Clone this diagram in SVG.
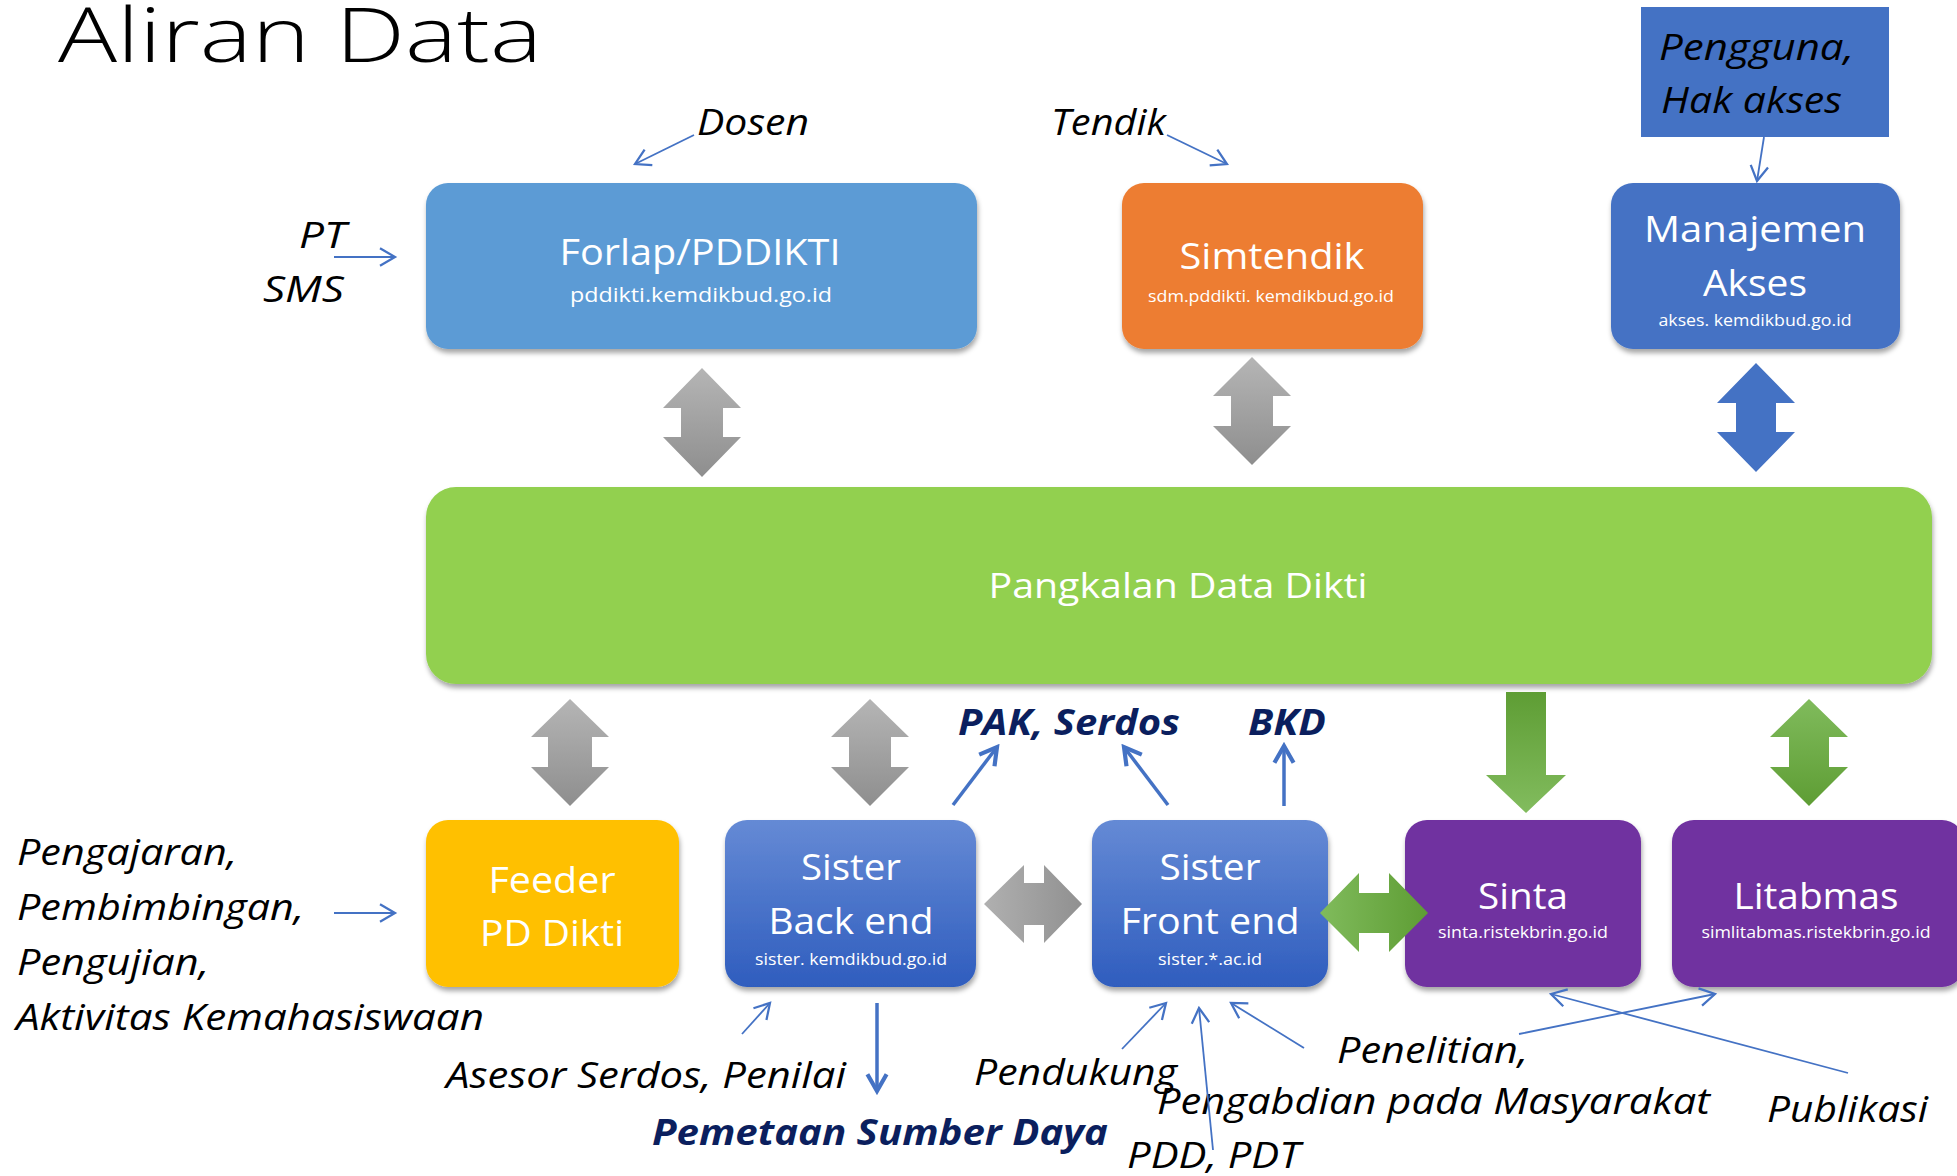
<svg xmlns="http://www.w3.org/2000/svg" width="1957" height="1176" viewBox="0 0 1957 1176">
<defs>
<style>
.t{font-family:"Open Sans","Noto Sans","DejaVu Sans",sans-serif;fill:#fff}
.i{font-family:"Open Sans","Noto Sans","DejaVu Sans",sans-serif;font-style:italic;fill:#000;font-size:37px}
.b{font-family:"Open Sans","Noto Sans","DejaVu Sans",sans-serif;font-style:italic;font-weight:bold;fill:#0B1F5E;font-size:35px}
.big{font-size:36px}
.sub{font-size:16px}
.ln{stroke:#4472C4;stroke-width:1.8;fill:none;marker-end:url(#ah)}
.lk{stroke:#4472C4;stroke-width:3.5;fill:none;marker-end:url(#ahk)}
</style>
<filter id="sh" x="-10%" y="-10%" width="120%" height="135%">
<feDropShadow dx="1" dy="4" stdDeviation="2.5" flood-color="#000" flood-opacity="0.35"/>
</filter>
<linearGradient id="gv" x1="0" y1="0" x2="0" y2="1"><stop offset="0" stop-color="#B5B5B5"/><stop offset="1" stop-color="#8E8E8E"/></linearGradient>
<linearGradient id="gh" x1="0" y1="0" x2="1" y2="0"><stop offset="0" stop-color="#B0B0B0"/><stop offset="1" stop-color="#909090"/></linearGradient>
<linearGradient id="grv" x1="0" y1="0" x2="0" y2="1"><stop offset="0" stop-color="#80BB5C"/><stop offset="1" stop-color="#5E9D34"/></linearGradient>
<linearGradient id="grd" x1="0" y1="0" x2="0" y2="1"><stop offset="0" stop-color="#5E9D34"/><stop offset="1" stop-color="#82BC5E"/></linearGradient>
<linearGradient id="grh" x1="0" y1="0" x2="1" y2="0"><stop offset="0" stop-color="#80BB5C"/><stop offset="1" stop-color="#5E9D34"/></linearGradient>
<linearGradient id="bl" x1="0" y1="0" x2="0" y2="1"><stop offset="0" stop-color="#658AD5"/><stop offset="1" stop-color="#2F5DBE"/></linearGradient>
<marker id="ah" markerUnits="userSpaceOnUse" markerWidth="20" markerHeight="20" viewBox="-14 -8 16 16" refX="0" refY="0" orient="auto">
<path d="M-12,-7 L0,0 L-12,7" fill="none" stroke="#4472C4" stroke-width="1.8"/>
</marker>
<marker id="ahk" markerUnits="userSpaceOnUse" markerWidth="24" markerHeight="24" viewBox="-16 -10 19 20" refX="0" refY="0" orient="auto">
<path d="M-14,-8 L0,0 L-14,8" fill="none" stroke="#4472C4" stroke-width="3.5"/>
</marker>
</defs>
<rect width="1957" height="1176" fill="#fff"/>

<text class="t" x="58" y="62" style="fill:#000;font-size:76px;font-weight:300" textLength="484" lengthAdjust="spacingAndGlyphs">Aliran Data</text>

<g id="forlap">
<rect x="426" y="183" width="551" height="166" rx="22" fill="#5B9BD5" filter="url(#sh)"/>
<text class="t big" x="700" y="265" text-anchor="middle" textLength="281" lengthAdjust="spacingAndGlyphs">Forlap/PDDIKTI</text>
<text class="t" x="701" y="302" text-anchor="middle" style="font-size:20px" textLength="262" lengthAdjust="spacingAndGlyphs">pddikti.kemdikbud.go.id</text>
</g>
<g id="simtendik">
<rect x="1122" y="183" width="301" height="166" rx="22" fill="#ED7D31" filter="url(#sh)"/>
<text class="t big" x="1272" y="269" text-anchor="middle" textLength="185" lengthAdjust="spacingAndGlyphs">Simtendik</text>
<text class="t sub" x="1271" y="302" text-anchor="middle" textLength="246" lengthAdjust="spacingAndGlyphs">sdm.pddikti. kemdikbud.go.id</text>
</g>
<g id="pengguna">
<rect x="1641" y="7" width="248" height="130" fill="#4472C4"/>
<text class="i" x="1659" y="60" textLength="195" lengthAdjust="spacingAndGlyphs">Pengguna,</text>
<text class="i" x="1661" y="113" textLength="181" lengthAdjust="spacingAndGlyphs">Hak akses</text>
</g>
<g id="manajemen">
<rect x="1611" y="183" width="289" height="166" rx="22" fill="#4472C4" filter="url(#sh)"/>
<text class="t big" x="1755" y="242" text-anchor="middle" textLength="222" lengthAdjust="spacingAndGlyphs">Manajemen</text>
<text class="t big" x="1755" y="296" text-anchor="middle" textLength="104" lengthAdjust="spacingAndGlyphs">Akses</text>
<text class="t sub" x="1755" y="326" text-anchor="middle" textLength="193" lengthAdjust="spacingAndGlyphs">akses. kemdikbud.go.id</text>
</g>
<g id="pddikti">
<rect x="426" y="487" width="1506" height="197" rx="30" fill="#92D050" filter="url(#sh)"/>
<text class="t big" x="1178" y="598" text-anchor="middle" style="font-size:35px" textLength="379" lengthAdjust="spacingAndGlyphs">Pangkalan Data Dikti</text>
</g>
<g id="feeder">
<rect x="426" y="820" width="253" height="167" rx="22" fill="#FFC000" filter="url(#sh)"/>
<text class="t big" x="552" y="893" text-anchor="middle" textLength="127" lengthAdjust="spacingAndGlyphs">Feeder</text>
<text class="t big" x="552" y="946" text-anchor="middle" textLength="144" lengthAdjust="spacingAndGlyphs">PD Dikti</text>
</g>
<g id="backend">
<rect x="725" y="820" width="251" height="167" rx="22" fill="url(#bl)" filter="url(#sh)"/>
<text class="t big" x="851" y="880" text-anchor="middle" textLength="100" lengthAdjust="spacingAndGlyphs">Sister</text>
<text class="t big" x="851" y="934" text-anchor="middle" textLength="165" lengthAdjust="spacingAndGlyphs">Back end</text>
<text class="t sub" x="851" y="965" text-anchor="middle" textLength="192" lengthAdjust="spacingAndGlyphs">sister. kemdikbud.go.id</text>
</g>
<g id="frontend">
<rect x="1092" y="820" width="236" height="167" rx="22" fill="url(#bl)" filter="url(#sh)"/>
<text class="t big" x="1210" y="880" text-anchor="middle" textLength="101" lengthAdjust="spacingAndGlyphs">Sister</text>
<text class="t big" x="1210" y="934" text-anchor="middle" textLength="179" lengthAdjust="spacingAndGlyphs">Front end</text>
<text class="t sub" x="1210" y="965" text-anchor="middle" textLength="104" lengthAdjust="spacingAndGlyphs">sister.*.ac.id</text>
</g>
<g id="sinta">
<rect x="1405" y="820" width="236" height="167" rx="22" fill="#7030A0" filter="url(#sh)"/>
<text class="t big" x="1523" y="909" text-anchor="middle" textLength="90" lengthAdjust="spacingAndGlyphs">Sinta</text>
<text class="t sub" x="1523" y="938" text-anchor="middle" textLength="170" lengthAdjust="spacingAndGlyphs">sinta.ristekbrin.go.id</text>
</g>
<g id="litabmas">
<rect x="1672" y="820" width="292" height="167" rx="22" fill="#7030A0" filter="url(#sh)"/>
<text class="t big" x="1816" y="909" text-anchor="middle" textLength="165" lengthAdjust="spacingAndGlyphs">Litabmas</text>
<text class="t sub" x="1816" y="938" text-anchor="middle" textLength="229" lengthAdjust="spacingAndGlyphs">simlitabmas.ristekbrin.go.id</text>
</g>

<g id="labels">
<text class="i" x="697" y="135" textLength="112" lengthAdjust="spacingAndGlyphs">Dosen</text>
<text class="i" x="1051" y="135" textLength="115" lengthAdjust="spacingAndGlyphs">Tendik</text>
<text class="i" x="299" y="248" textLength="47" lengthAdjust="spacingAndGlyphs">PT</text>
<text class="i" x="263" y="302" textLength="81" lengthAdjust="spacingAndGlyphs">SMS</text>
<text class="i" x="17" y="865" textLength="220" lengthAdjust="spacingAndGlyphs">Pengajaran,</text>
<text class="i" x="17" y="920" textLength="287" lengthAdjust="spacingAndGlyphs">Pembimbingan,</text>
<text class="i" x="17" y="975" textLength="192" lengthAdjust="spacingAndGlyphs">Pengujian,</text>
<text class="i" x="16" y="1030" textLength="468" lengthAdjust="spacingAndGlyphs">Aktivitas Kemahasiswaan</text>
<text class="i" x="446" y="1088" textLength="400" lengthAdjust="spacingAndGlyphs">Asesor Serdos, Penilai</text>
<text class="b" x="652" y="1145" textLength="456" lengthAdjust="spacingAndGlyphs">Pemetaan Sumber Daya</text>
<text class="b" x="958" y="735" textLength="222" lengthAdjust="spacingAndGlyphs">PAK, Serdos</text>
<text class="b" x="1248" y="735" textLength="78" lengthAdjust="spacingAndGlyphs">BKD</text>
<text class="i" x="974" y="1085" textLength="203" lengthAdjust="spacingAndGlyphs">Pendukung</text>
<text class="i" x="1337" y="1063" textLength="191" lengthAdjust="spacingAndGlyphs">Penelitian,</text>
<text class="i" x="1157" y="1114" textLength="553" lengthAdjust="spacingAndGlyphs">Pengabdian pada Masyarakat</text>
<text class="i" x="1127" y="1168" textLength="173" lengthAdjust="spacingAndGlyphs">PDD, PDT</text>
<text class="i" x="1767" y="1122" textLength="161" lengthAdjust="spacingAndGlyphs">Publikasi</text>
</g>

<g id="connectors">
<polygon fill="url(#gv)" points="702,368 741,408 723,408 723,437 741,437 702,477 663,437 681,437 681,408 663,408"/>
<polygon fill="url(#gv)" points="1252,357 1291,396 1273,396 1273,426 1291,426 1252,465 1213,426 1231,426 1231,396 1213,396"/>
<polygon fill="#4472C4" points="1756,363 1795,403 1776,403 1776,432 1795,432 1756,472 1717,432 1736,432 1736,403 1717,403"/>
<polygon fill="url(#gv)" points="570,699 609,737 592,737 592,767 609,767 570,806 531,767 548,767 548,737 531,737"/>
<polygon fill="url(#gv)" points="870,699 909,737 891,737 891,767 909,767 870,806 831,767 849,767 849,737 831,737"/>
<polygon fill="url(#grv)" points="1809,699 1848,737 1829,737 1829,767 1848,767 1809,806 1770,767 1789,767 1789,737 1770,737"/>
<polygon fill="url(#grd)" points="1506,692 1546,692 1546,775 1566,775 1526,813 1486,775 1506,775"/>
<polygon fill="url(#gh)" points="984,904 1024,865 1024,883 1044,883 1044,865 1082,904 1044,943 1044,925 1024,925 1024,943"/>
<polygon fill="url(#grh)" points="1320,913 1359,873 1359,893 1389,893 1389,873 1428,913 1389,952 1389,933 1359,933 1359,952"/>

<line class="ln" x1="694" y1="135" x2="635" y2="164"/>
<line class="ln" x1="1167" y1="135" x2="1227" y2="164"/>
<line class="ln" x1="1764" y1="137" x2="1757" y2="181"/>
<line class="ln" x1="334" y1="257" x2="395" y2="257"/>
<line class="ln" x1="334" y1="913" x2="395" y2="913"/>
<line class="lk" x1="953" y1="805" x2="997" y2="747"/>
<line class="lk" x1="1168" y1="805" x2="1124" y2="747"/>
<line class="lk" x1="1284" y1="806" x2="1284" y2="746"/>
<line class="lk" x1="877" y1="1003" x2="877" y2="1091"/>
<line class="ln" x1="742" y1="1034" x2="770" y2="1003"/>
<line class="ln" x1="1122" y1="1049" x2="1166" y2="1003"/>
<line class="ln" x1="1213" y1="1150" x2="1199" y2="1008"/>
<line class="ln" x1="1304" y1="1048" x2="1231" y2="1003"/>
<line class="ln" x1="1519" y1="1034" x2="1715" y2="994"/>
<line class="ln" x1="1848" y1="1073" x2="1551" y2="994"/>
</g>
</svg>
